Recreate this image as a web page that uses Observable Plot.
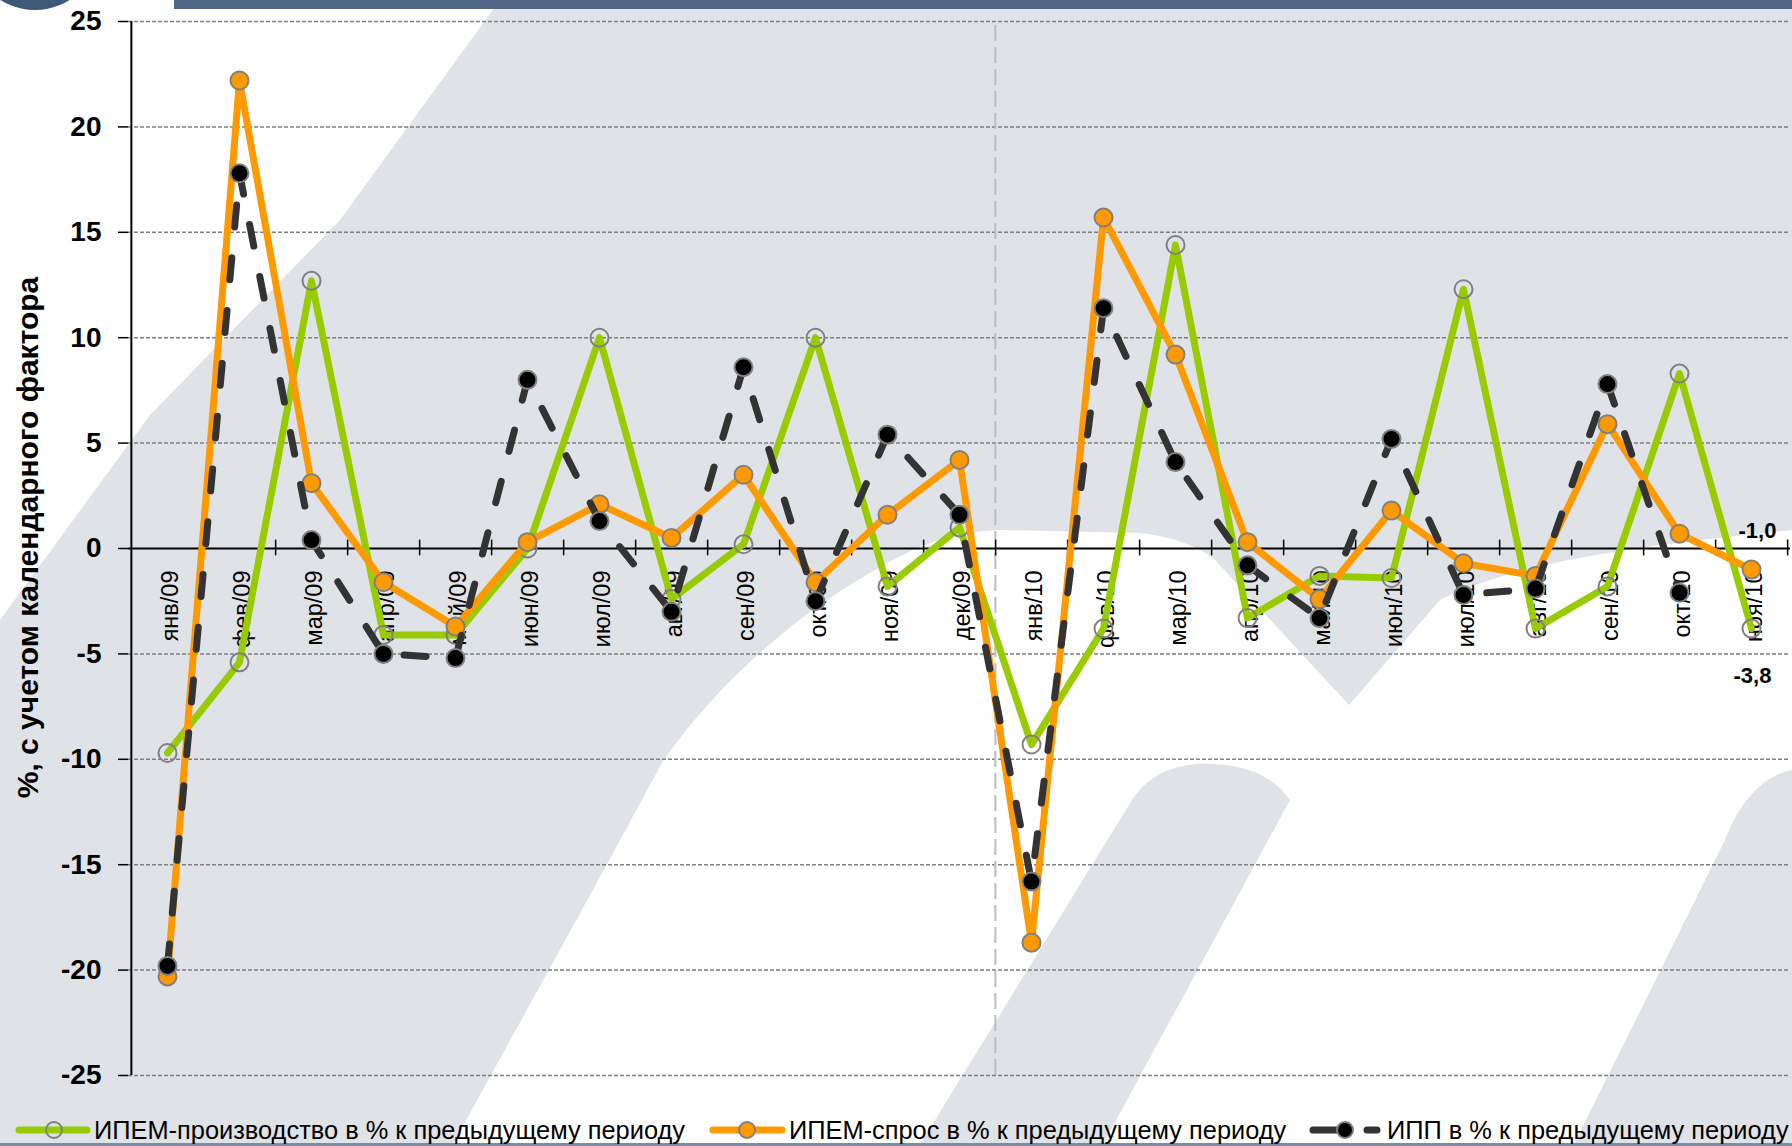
<!DOCTYPE html>
<html><head><meta charset="utf-8">
<script src="https://cdn.jsdelivr.net/npm/d3@7"></script>
<script src="https://cdn.jsdelivr.net/npm/@observablehq/plot@0.6"></script>
<style>
html,body{margin:0;padding:0;background:#dfe2e7;}
#wrap{position:relative;width:1792px;height:1146px;overflow:hidden;font-family:"Liberation Sans",Arial,sans-serif;}
#bg,#chart,#legend{position:absolute;left:0;}
#bg{top:0;} #chart{top:0;} #legend{top:1100px;}
</style></head><body>
<div id="wrap">
<svg id="bg" width="1792" height="1146">
  <rect x="0" y="0" width="1792" height="1146" fill="#dfe2e7"/>
  <path d="M0,0 L500,0 L340,220 L150,415 L0,620 Z" fill="#ffffff"/>
  <path d="M452,1146 L600,877 L663,761 C720,680 800,610 891,561 C930,540 960,532 1000,530 L1140,533 C1180,538 1200,548 1215,560 L1349,705 L1440,600 C1520,560 1650,545 1792,530 L1792,1146 Z" fill="#ffffff"/>
  <path d="M919,1146 L1132,800 C1150,772 1180,762 1215,764 C1250,766 1275,778 1290,800 L1102,1146 Z" fill="#dfe2e7"/>
  <path d="M1573,1146 L1725,840 C1740,800 1765,775 1792,770 L1792,1146 Z" fill="#dfe2e7"/>
  <rect x="174" y="0" width="1618" height="9" fill="#506686"/>
  <circle cx="35" cy="-55" r="65" fill="#3f5878"/>
  <rect x="0" y="1143" width="1792" height="3" fill="#7d8ca5"/>
</svg>
<div id="chart"></div>
<svg id="legend" width="1792" height="46"></svg>
</div>
<script>
const categories = ["янв/09","фев/09","мар/09","апр/09","май/09","июн/09","июл/09","авг/09","сен/09","окт/09","ноя/09","дек/09","янв/10","фев/10","мар/10","апр/10","май/10","июн/10","июл/10","авг/10","сен/10","окт/10","ноя/10"];
const ipemProd   = [-9.7, -5.4, 12.7, -4.1, -4.1, 0.0, 10.0, -2.4, 0.2, 10.0, -1.8, 1.0, -9.3, -3.8, 14.4, -3.3, -1.3, -1.4, 12.3, -3.8, -1.8, 8.3, -3.8];
const ipemDemand = [-20.3, 22.2, 3.1, -1.6, -3.7, 0.3, 2.1, 0.5, 3.5, -1.6, 1.6, 4.2, -18.7, 15.7, 9.2, 0.3, -2.4, 1.8, -0.7, -1.3, 5.9, 0.7, -1.0];
const ipp        = [-19.8, 17.8, 0.4, -5.0, -5.2, 8.0, 1.3, -3.0, 8.6, -2.5, 5.4, 1.6, -15.8, 11.4, 4.1, -0.8, -3.3, 5.2, -2.2, -1.9, 7.8, -2.1, null];
const yTicks = [25, 20, 15, 10, 5, 0, -5, -10, -15, -20, -25];
const seriesNames = ["ИПЕМ-производство в % к предыдущему периоду", "ИПЕМ-спрос в % к предыдущему периоду", "ИПП в % к предыдущему периоду"];
const yLabel = "%, с учетом календарного фактора";

const W = 1792, H = 1100, ML = 128, MR = 2, MT = 21, MB = 25;
const step = (W - ML - MR) / categories.length;
const rows = vals => categories.map((c, i) => ({c, v: vals[i]})).filter(d => d.v != null);
const prod = rows(ipemProd), dem = rows(ipemDemand), ip = rows(ipp);
const fmt = v => v.toFixed(1).replace(".", ",").replace("−", "-");
const FONT = "'Liberation Sans', Arial, sans-serif";
const GREEN = "#99cc00", ORANGE = "#ff9900", DARK = "#333333", MARK = "#808080";

const chart = Plot.plot({
  width: W, height: H, marginLeft: ML, marginRight: MR, marginTop: MT, marginBottom: MB,
  style: {background: "transparent", fontFamily: FONT, overflow: "visible", color: "black"},
  x: {type: "point", domain: categories, padding: 0.5, axis: null},
  y: {domain: [-25, 25], axis: null},
  marks: [
    Plot.ruleY(yTicks.filter(t => t !== 0), {stroke: "#7f7f7f", strokeWidth: 1.5, strokeDasharray: "4,2"}),
    Plot.ruleX([categories[12]], {dx: -step / 2, y1: -25, y2: 25, stroke: "#bdbdbd", strokeWidth: 2, strokeDasharray: "16,6"}),
    Plot.axisY(yTicks, {anchor: "left", tickSize: 10, tickPadding: 17, fontSize: 28, fontWeight: "bold", label: null, tickFormat: d => String(d), stroke: "black", strokeWidth: 1.5, fill: "black"}),
    Plot.ruleX([categories[0]], {dx: -step / 2, y1: -25, y2: 25, stroke: "black", strokeWidth: 2}),
    Plot.ruleY([0], {stroke: "black", strokeWidth: 2}),
    Plot.ruleX(categories, {x: d => d, dx: step / 2, y1: -0.35, y2: 0.4, stroke: "black", strokeWidth: 1.5}),
    Plot.text(categories, {x: d => d, y: d => 0, text: d => d, rotate: -90, textAnchor: "end", dy: 22, dx: 3, fontSize: 23.5, fill: "black"}),
    Plot.text([yLabel], {frameAnchor: "left", text: d => d, rotate: -90, textAnchor: "middle", dx: -100, dy: -11, fontSize: 30, fontWeight: "bold", fill: "black"}),
    Plot.line(prod, {x: "c", y: "v", stroke: GREEN, strokeWidth: 7}),
    Plot.dot(prod, {x: "c", y: "v", r: 9, fill: "none", stroke: MARK, strokeWidth: 2}),
    Plot.line(dem, {x: "c", y: "v", stroke: ORANGE, strokeWidth: 7}),
    Plot.dot(dem, {x: "c", y: "v", r: 9, fill: ORANGE, stroke: MARK, strokeWidth: 2}),
    Plot.line(ip, {x: "c", y: "v", stroke: DARK, strokeWidth: 7, strokeDasharray: "22,31", strokeLinecap: "round"}),
    Plot.dot(ip, {x: "c", y: "v", r: 9, fill: "black", stroke: MARK, strokeWidth: 2}),
    Plot.text([dem[dem.length - 1]], {x: "c", y: "v", text: d => fmt(d.v), dx: 6, dy: -39, fontSize: 22, fontWeight: "bold", fill: "black"}),
    Plot.text([prod[prod.length - 1]], {x: "c", y: "v", text: d => fmt(d.v), dx: 1, dy: 47, fontSize: 22, fontWeight: "bold", fill: "black"})
  ]
});
document.getElementById("chart").appendChild(chart);

// legend
const leg = d3.select("#legend");
const ly = 30;
const items = [
  {name: seriesNames[0], x0: 19, x1: 87, cx: 54, tx: 94, color: GREEN, fill: "none", dash: null},
  {name: seriesNames[1], x0: 713, x1: 782, cx: 747, tx: 789, color: ORANGE, fill: ORANGE, dash: null},
  {name: seriesNames[2], x0: 1313, x1: 1377, cx: 1345, tx: 1387, color: DARK, fill: "black", dash: "28,26"}
];
for (const it of items) {
  leg.append("line").attr("x1", it.x0).attr("x2", it.x1).attr("y1", ly).attr("y2", ly)
    .attr("stroke", it.color).attr("stroke-width", 7).attr("stroke-linecap", "round")
    .attr("stroke-dasharray", it.dash);
  leg.append("circle").attr("cx", it.cx).attr("cy", ly).attr("r", 8)
    .attr("fill", it.fill).attr("stroke", MARK).attr("stroke-width", 2);
  leg.append("text").attr("x", it.tx).attr("y", ly + 9).attr("font-size", 25.4)
    .attr("font-family", FONT).attr("fill", "black").text(it.name);
}
</script>
</body></html>
